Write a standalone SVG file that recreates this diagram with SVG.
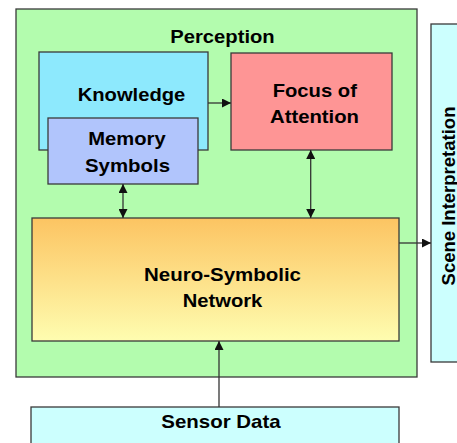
<svg xmlns="http://www.w3.org/2000/svg" width="457" height="443" viewBox="0 0 457 443">
<defs>
<linearGradient id="gNeuro" x1="0" y1="0" x2="0" y2="1">
<stop offset="0" stop-color="#fcc462"/>
<stop offset="1" stop-color="#fefdb0"/>
</linearGradient>
<marker id="ah" viewBox="0 0 10 10" refX="10" refY="5" markerWidth="5" markerHeight="5" orient="auto-start-reverse" markerUnits="userSpaceOnUse">
<path d="M0,0 L10,5 L0,10 z" fill="#111"/>
</marker>
<marker id="ahb" viewBox="0 0 10 10" refX="10" refY="5" markerWidth="9" markerHeight="9" orient="auto-start-reverse" markerUnits="userSpaceOnUse">
<path d="M0,0 L10,5 L0,10 z" fill="#111"/>
</marker>
</defs>
<style>
.box{stroke:#3a3a3a;stroke-width:1.3}
.t{font-family:"Liberation Sans",Arial,sans-serif;font-weight:bold;font-size:18.5px;fill:#000;text-anchor:middle}
.c{stroke:#333;stroke-width:1.3;fill:none}
</style>
<rect width="457" height="443" fill="#ffffff"/>
<g id="perception">
<rect class="box" x="16" y="9" width="401" height="368" fill="#b3fcae"/>
<text class="t" x="222.5" y="42.7" textLength="104.4" lengthAdjust="spacingAndGlyphs">Perception</text>
</g>
<g id="knowledge">
<rect class="box" x="39" y="52" width="169" height="98" fill="#8de9fd"/>
<text class="t" x="131.5" y="100.7" textLength="107.7" lengthAdjust="spacingAndGlyphs">Knowledge</text>
</g>
<g id="memory">
<rect class="box" x="48" y="118" width="150" height="66" fill="#b1c5fc"/>
<text class="t" x="127" y="144.5" textLength="77.4" lengthAdjust="spacingAndGlyphs">Memory</text>
<text class="t" x="127.5" y="171.5" textLength="85" lengthAdjust="spacingAndGlyphs">Symbols</text>
</g>
<g id="focus">
<rect class="box" x="231" y="53" width="161" height="97" fill="#fe9595"/>
<text class="t" x="314.8" y="96.7" textLength="84.2" lengthAdjust="spacingAndGlyphs">Focus of</text>
<text class="t" x="314.5" y="122.7" textLength="89" lengthAdjust="spacingAndGlyphs">Attention</text>
</g>
<g id="neuro">
<rect class="box" x="32" y="218" width="367" height="123" fill="url(#gNeuro)"/>
<text class="t" x="222.5" y="280.7" textLength="157" lengthAdjust="spacingAndGlyphs">Neuro-Symbolic</text>
<text class="t" x="222.5" y="307.3" textLength="79.6" lengthAdjust="spacingAndGlyphs">Network</text>
</g>
<g id="scene">
<rect class="box" x="431" y="24" width="40" height="338" fill="#ccfffe"/>
<text class="t" transform="translate(455 196) rotate(-90)" x="0" y="0">Scene Interpretation</text>
</g>
<g id="sensor">
<rect class="box" x="31" y="407" width="368" height="50" fill="#ccfffe"/>
<text class="t" x="221" y="427.7" textLength="119.4" lengthAdjust="spacingAndGlyphs">Sensor Data</text>
</g>
<g id="connectors">
<line class="c" x1="208" y1="103" x2="231" y2="103" marker-end="url(#ahb)"/>
<line class="c" x1="123" y1="184" x2="123" y2="218" marker-start="url(#ahb)" marker-end="url(#ahb)"/>
<line class="c" x1="310.7" y1="150" x2="310.7" y2="218" marker-start="url(#ahb)" marker-end="url(#ahb)"/>
<line class="c" x1="399" y1="243" x2="431" y2="243" marker-end="url(#ahb)"/>
<line class="c" x1="219" y1="407" x2="219" y2="341" marker-end="url(#ahb)"/>
</g>
</svg>
